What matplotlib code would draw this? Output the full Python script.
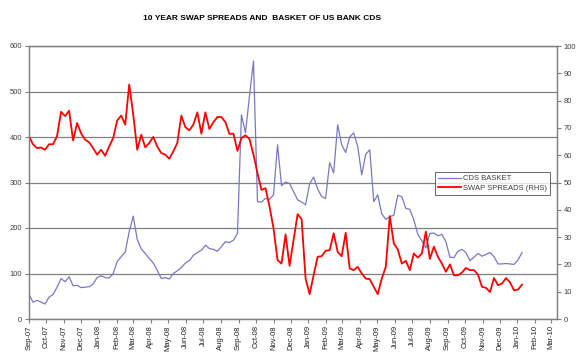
import matplotlib
matplotlib.use("Agg")
import matplotlib.pyplot as plt
import matplotlib.dates as mdates
import pandas as pd

plt.rcParams['font.family'] = ['Liberation Sans', 'DejaVu Sans']

# weekly readings, first week = start of Sep 2007
cds_basket = [
    54, 37, 41, 37, 33, 48, 54, 70, 89, 82, 93, 73, 74, 69, 70, 71, 77, 91, 95, 91,
    90, 100, 126, 137, 147, 192, 226, 175, 154, 144, 133, 123, 107, 89,
    91, 88, 100, 106, 113, 123, 128, 140, 146, 151, 162, 155, 153, 149, 159, 170,
    168, 173, 188, 449, 409, 490, 567, 258, 257, 265, 263, 273, 383, 293, 301, 298,
    280, 262,
    257, 251, 297, 312, 286, 269, 265, 344, 321, 427, 383, 366, 400, 409, 379, 317,
    362, 372, 258, 273, 231, 219, 225, 228, 272, 269, 243, 241, 218, 186,
    172, 156, 188, 189, 183, 186, 170, 136, 135, 149, 153, 146, 128, 136, 144, 138,
    142, 146, 137, 121, 121, 122, 121, 120, 130, 146,
]
swap_spreads = [
    66.9, 64, 62.6, 62.8, 62, 64, 64, 67, 75.9, 74.3, 76.3, 65.4, 71.8, 68, 65.7,
    64.7, 62.6, 60.2, 62, 59.8, 63.2, 66.3, 72.7, 74.5, 71.2, 85.9, 74.9, 62, 67.5,
    62.9, 64.5, 66.7, 63.2, 60.8,
    60.2, 58.7, 61.4, 64.5, 74.5, 70.3, 69.1, 71.2, 75.7, 67.9, 75.7, 69.6, 72.1,
    74, 74, 72.1, 67.8, 67.9, 61.6, 66.3, 67.3, 65.9, 60.2, 53.4, 47.3, 47.9, 41.2,
    33.2, 21.6, 20.3, 31, 19.5, 28.9, 38.4,
    36.6, 14.8, 9.1, 16, 22.8, 23, 25, 25.2, 31.4, 24.6, 23, 31.6, 18.5, 17.9, 19.1,
    16.7, 14.8, 14.6, 11.8, 9.1, 14.8, 19.1, 37.7, 27.7, 25.5, 20.3, 21.3, 17.9, 24,
    22.5, 24, 32, 22, 26.5,
    22.8, 20.3, 17.3, 20, 16, 16, 17, 18.7, 17.9, 17.9, 16.3, 11.8, 11.4, 9.9, 15,
    12.4, 13, 15, 13.4, 10.5, 10.8, 12.6,
]
dates = pd.date_range('2007-09-01', periods=len(cds_basket), freq='7D')

left_ticks = [0, 100, 200, 300, 400, 500, 600]
right_ticks = list(range(0, 101, 10))

fig = plt.figure(figsize=(5.8, 3.56), dpi=100)
ax = fig.add_axes([29 / 580, 1 - 319 / 356, (557 - 29) / 580, (319 - 46) / 356])
ax2 = ax.twinx()

l1, = ax.plot(dates, cds_basket, color='#7878c4', lw=0.9, label='CDS BASKET')
l2, = ax2.plot(dates, swap_spreads, color='#ff0000', lw=1.3, label='SWAP SPREADS (RHS)')

ax.set_ylim(0, 600)
ax.set_yticks(left_ticks)
ax2.set_ylim(0, 100)
ax2.set_yticks(right_ticks)
ax.set_xlim(pd.Timestamp('2007-09-01'), pd.Timestamp('2010-03-11'))
ax.xaxis.set_major_locator(mdates.MonthLocator())
ax.xaxis.set_major_formatter(mdates.DateFormatter('%b-%y'))

ax.grid(axis='y', color='#808080', lw=0.9)
ax.set_axisbelow(True)

for a in (ax, ax2):
    for s in a.spines.values():
        s.set_color('#808080')
        s.set_linewidth(0.9)
    a.tick_params(colors='#808080', length=3, width=0.8)

ax.tick_params(axis='y', labelsize=5.5, labelcolor='#404040', pad=2)
ax2.tick_params(axis='y', labelsize=5.5, labelcolor='#404040', pad=2)
ax.tick_params(axis='x', labelsize=5.5, labelcolor='#202020', pad=1.5,
               labelrotation=90)

fig.text(262 / 580, 1 - 18 / 356, '10 YEAR SWAP SPREADS AND  BASKET OF US BANK CDS',
         ha='center', va='center', fontsize=6.0, fontweight='bold')

leg = fig.legend(handles=[l1, l2], loc='upper left',
                 bbox_to_anchor=(435 / 580, 1 - 172 / 356), fontsize=5.5,
                 frameon=True, fancybox=False, edgecolor='#404040',
                 borderpad=0.4, handlelength=3.0, handletextpad=0.3,
                 labelspacing=0.3, borderaxespad=0)
leg.get_frame().set_linewidth(0.7)
for t in leg.get_texts():
    t.set_color('#404040')

fig.savefig('out.png', dpi=100)
